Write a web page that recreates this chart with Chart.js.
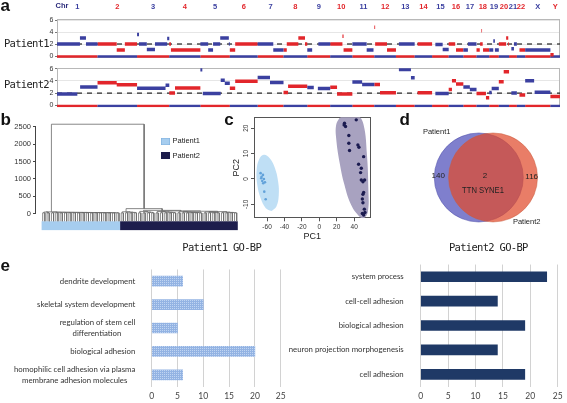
<!DOCTYPE html>
<html>
<head>
<meta charset="utf-8">
<script src="https://cdn.jsdelivr.net/npm/chart.js@4.4.1/dist/chart.umd.min.js"></script>
<style>
  html, body { margin: 0; padding: 0; background: #fff; }
  #fig { position: relative; width: 567px; height: 403px; overflow: hidden; font-family: "Liberation Sans", Arial, sans-serif; }
  #fig canvas { position: absolute; }
  .t { position: absolute; white-space: nowrap; line-height: 1; color: #222; }
  .lab { font-weight: bold; font-size: 17px; color: #111; }
  .mono { font-family: "DejaVu Sans Mono", monospace; font-size: 10.5px; letter-spacing: -0.7px; }
  .sw { position: absolute; width: 9px; height: 7px; }
</style>
</head>
<body>
<div id="fig">
  <canvas id="cnP1" width="567" height="64" style="left:0;top:0"></canvas>
  <canvas id="cnP2" width="567" height="51" style="left:0;top:62px"></canvas>
  <canvas id="dendro" width="245" height="125" style="left:0;top:112px"></canvas>
  <canvas id="pca" width="150" height="130" style="left:225px;top:112px"></canvas>
  <canvas id="venn" width="140" height="95" style="left:416px;top:130px"></canvas>
  <canvas id="go1" width="290" height="153" style="left:0;top:250px"></canvas>
  <canvas id="go2" width="297" height="153" style="left:270px;top:250px"></canvas>
</div>
<script>
// ---- a: copy number ----
const chrNames = ['1','2','3','4','5','6','7','8','9','10','11','12','13','14','15','16','17','18','19','20','21','22','X','Y'];
const chrLenMb = [249,243,198,191,181,171,159,146,141,136,135,133,115,107,102,90,81,78,59,63,48,51,155,59];
// [chromosome, start Mb, end Mb, copy number]
const p1Segments = [
  [1,0,141,2],[1,141,178,3],[1,178,249,2],
  [2,0,118,2],[2,118,168,1],[2,168,243,2],
  [3,0,12,3.6],[3,12,60,2],[3,60,110,1.1],[3,110,185,2],[3,185,198,2.9],
  [4,0,10,2],[4,10,191,1],
  [5,0,48,2],[5,48,78,1],[5,78,122,2],[5,122,175,3],[5,175,181,2],
  [6,0,33,1],[6,33,171,2],
  [7,0,96,2],[7,96,159,1],
  [8,0,20,1],[8,20,91,2],[8,91,132,3],[8,132,146,2],
  [9,0,30,1],[9,68,141,2],
  [10,0,75,2],[10,75,82,3.3],[10,82,136,1],
  [11,0,88,2],[11,88,130,1],
  [12,0,5,4.8],[12,5,78,2],[12,78,133,1],
  [13,18,115,2],
  [14,18,107,2],
  [15,20,65,1.9],[15,65,102,1.1],
  [16,0,40,2],[16,33,38,4],[16,45,90,1],
  [17,0,28,1],[17,28,81,2],
  [18,0,20,1],[18,22,38,2],[18,30,34,4.2],[18,40,78,1],
  [19,0,25,1],[19,25,35,2.5],[19,35,59,1],
  [20,0,45,2],[20,45,58,3],[20,58,63,2],
  [21,14,30,1.2],[21,30,48,2],
  [22,16,51,1],
  [23,0,155,1],
  [24,0,20,0.2]
];
const p2Segments = [
  [1,0,125,1.85],[1,142,249,3.0],
  [2,0,118,3.7],[2,118,243,3.35],
  [3,0,175,2.8],[3,175,198,3.3],
  [4,0,35,2.0],[4,35,191,2.85],
  [5,0,12,5.8],[5,15,125,1.95],[5,125,150,4.1],[5,150,181,3.6],
  [6,0,33,2.8],[6,33,171,3.95],
  [7,0,76,4.55],[7,76,159,3.75],
  [8,0,28,2.1],[8,28,146,3.1],
  [9,0,40,2.9],[9,65,141,2.75],
  [10,0,42,2.95],[10,42,136,1.85],
  [11,0,60,3.8],[11,60,135,3.4],
  [12,0,35,3.4],[12,35,133,2.05],
  [13,18,92,5.85],[13,92,115,4.5],
  [14,18,107,2.05],
  [15,20,102,1.95],
  [16,0,20,2.6],[16,20,45,4.0],[16,45,90,3.5],
  [17,0,40,3.0],[17,40,81,2.6],
  [18,0,58,1.95],[18,58,78,1.25],
  [19,0,15,2.1],[19,15,59,2.75],
  [20,0,30,3.85],[20,30,63,5.5],
  [21,14,48,2.0],
  [22,16,51,1.7],
  [23,0,55,4.0],[23,58,155,2.15],
  [24,0,59,1.45]
];
const cnTicks = [0,1,2,3,4,5,6];

// ---- b: dendrogram (pair heights and join heights) ----
const leftPairs = [30,27,28,31,26,29,30,28,27,32,29,26,31,28,27,30,28,29];
const leftJoins = [57,52,49,47,45,44,43,42,41,40,39,38,37,36,35,34,33];
const rightGroups = [
  {pairs: [28,31,27,30], joins: [60,50,42]},
  {pairs: [29,26,30,28], joins: [70,55,45]},
  {pairs: [27,31,29,26,30], joins: [68,58,48,40]},
  {pairs: [30,28,27,31,29,26], joins: [62,52,46,40,36]},
  {pairs: [28,30,27,29], joins: [55,47,40]},
  {pairs: [31,27,30,28], joins: [50,42,36]}
];
const rightGroupJoins = [150,100,85,75,65];
const rootHeight = 2570;
const dendroTicks = [0,500,1000,1500,2000,2500];

// ---- c: PCA ----
const pcaP1 = [[-67.4,2.3],[-66.3,0.9],[-64.7,1.6],[-63.6,0],[-65.5,-0.8],[-62.4,-1.3],[-64.4,-1.7],[-63.2,-5.0],[-61.6,-8.0],[-66.7,0.3]];
const pcaP2 = [[28.9,22.0],[30.1,20.7],[28.5,21.3],[42.4,23.3],[33.9,17.1],[33.9,14.1],[34.7,11.2],[44.3,13.4],[45.5,12.5],[50.9,8.8],
  [45.1,5.8],[48.2,4.2],[47.4,2.5],[48.2,-0.4],[50.1,-1.1],[52.0,-0.4],[50.9,-5.3],[50.1,-6.0],[49.4,-7.9],[50.1,-9.4],
  [51.7,-11.9],[52.4,-13.2],[50.9,-14.2],[49.4,-13.6]];
const pcaP1Ellipse = [[-54.8,-12.6],[-49.4,-10.9],[-46.6,-6.6],[-47.3,-1.0],[-51.2,4.5],[-57.2,8.3],[-63.8,9.5],[-69.2,7.7],[-72.0,3.4],[-71.3,-2.2],[-67.4,-7.6],[-61.4,-11.5]];
const pcaP2Hull = [[23.1,24.0],[30.8,25.5],[44.3,25.0],[50.9,21.3],[54.7,9.5],[56.3,-3.7],[55.8,-12.9],[50.9,-15.5],[46.2,-14.9],[36.6,-10.3],[28.9,-2.4],[23.1,6.8],[19.3,16.1],[19.3,21.3]];
const pcaXTicks = [-60,-40,-20,0,20,40];
const pcaYTicks = [-10,0,10,20];

// ---- d: Venn ----
const vennNames = ['Patient1','Patient2'];
const vennCounts = [140, 2, 116];
const vennShared = 'TTN SYNE1';

// ---- e: GO-BP ----
const go1Terms = ['dendrite development','skeletal system development',['regulation of stem cell','differentiation'],'biological adhesion',['homophilic cell adhesion via plasma','membrane adhesion molecules']];
const go1Counts = [6,10,5,20,6];
const go2Terms = ['system process','cell-cell adhesion','biological adhesion','neuron projection morphogenesis','cell adhesion'];
const go2Counts = [23,14,19,14,19];
const goTicks = [0,5,10,15,20,25];

Chart.defaults.font.family = '"Liberation Sans", Arial, sans-serif';
Chart.defaults.animation = false;
Chart.defaults.responsive = false;
Chart.defaults.devicePixelRatio = 1;
Chart.defaults.events = [];
Chart.defaults.plugins.legend.display = false;
Chart.defaults.plugins.tooltip.enabled = false;

const boxPlugin = {
  id: 'box',
  beforeDatasetsDraw(chart, args, opts) {
    if (!opts.color) return;
    const {ctx, chartArea: a} = chart;
    ctx.save();
    ctx.strokeStyle = opts.color;
    ctx.lineWidth = 1;
    ctx.strokeRect(Math.round(a.left) + 0.5, Math.round(a.top) + 0.5, Math.round(a.right - a.left) - 1, Math.round(a.bottom - a.top) - 1);
    ctx.restore();
  }
};
const fixedTicks = list => s => { s.ticks = list.map(v => ({value: v})); };

const BLUE = '#3b40a0', RED = '#e2262b';
const chrStart = [];
chrLenMb.reduce((acc, len, i) => { chrStart[i] = acc; return acc + len; }, 0);
const genomeMb = chrLenMb.reduce((a, b) => a + b, 0);
const chrMid = chrLenMb.map((len, i) => chrStart[i] + len / 2);
const gap = () => ({x: null, y: null});

function cnChart(id, segs, yMin, yMax, withChr, padTop, padBottom) {
  const lines = [[], []], base = [[], []];
  segs.forEach(([c, s, e, cn]) => {
    lines[(c - 1) % 2].push({x: chrStart[c - 1] + s, y: cn}, {x: chrStart[c - 1] + e, y: cn}, gap());
  });
  chrLenMb.forEach((len, i) => {
    base[(i + 1) % 2].push({x: chrStart[i], y: -0.1}, {x: chrStart[i] + len, y: -0.1}, gap());
  });
  const ds = (data, color, w, extra) => Object.assign({data, showLine: true, borderColor: color, borderWidth: w, pointRadius: 0, borderCapStyle: 'butt'}, extra);
  return new Chart(id, {
    type: 'scatter',
    data: {datasets: [
      ds(lines[0], BLUE, 3.5, {order: 1}),
      ds(lines[1], RED, 3.5, {order: 1}),
      ds(base[0], BLUE, 2.5, {order: 2}),
      ds(base[1], RED, 2.5, {order: 2}),
      ds([{x: 0, y: 2}, {x: genomeMb, y: 2}], '#222', 1.2, {borderDash: [5, 5], order: 3})
    ]},
    options: {
      layout: {padding: {top: padTop, right: 7, bottom: padBottom, left: 0}},
      plugins: {box: {color: '#b8b8b8'}},
      scales: {
        x: {
          type: 'linear', position: 'top', display: withChr, min: 0, max: genomeMb,
          afterBuildTicks: fixedTicks(chrMid),
          ticks: {autoSkip: false, minRotation: 0, maxRotation: 0, padding: 8,
            callback: (v, i) => chrNames[i], color: c => c.index % 2 ? RED : BLUE,
            font: {size: 7.5, weight: 'bold'}},
          grid: {display: false, drawTicks: false}, border: {display: false},
          afterFit: s => { if (withChr) s.height = 19; }
        },
        y: {
          min: yMin, max: yMax,
          afterBuildTicks: fixedTicks(cnTicks),
          ticks: {callback: v => v % 2 === 0 ? v : '', font: {size: 7}, color: '#333', padding: 1.5},
          grid: {color: '#e6e6e6', tickLength: 2, tickColor: c => c.tick && c.tick.value % 2 === 0 ? '#777' : 'rgba(0,0,0,0)'},
          border: {display: false},
          afterFit: s => { s.width = 57; }
        }
      }
    },
    plugins: [boxPlugin]
  });
}
cnChart('cnP1', p1Segments, -0.35, 6.17, true, 0, 5.9);
cnChart('cnP2', p2Segments, -0.3, 6.05, false, 6.3, 5.8);

// ---- b ----
function chain(pairs, joins) {
  let node = pairs[pairs.length - 1];
  for (let k = pairs.length - 2; k >= 0; k--) node = [joins[k], pairs[k], node];
  return node;
}
let rightTree = chain(rightGroups[rightGroups.length - 1].pairs, rightGroups[rightGroups.length - 1].joins);
for (let g = rightGroups.length - 2; g >= 0; g--) rightTree = [rightGroupJoins[g], chain(rightGroups[g].pairs, rightGroups[g].joins), rightTree];
const leftTree = [leftJoins[0], chain(leftPairs.slice(0, 2), leftJoins.slice(1, 2)), chain(leftPairs.slice(2), leftJoins.slice(2))];
const leafBase = -211;
const dendroPts = [];
let leafCount = 0;
function walk(node) {
  if (typeof node === 'number') {
    const a = leafCount++, b = leafCount++;
    dendroPts.push({x: a, y: leafBase}, {x: a, y: node}, {x: b, y: node}, {x: b, y: leafBase}, gap());
    return {x: (a + b) / 2, h: node};
  }
  const [h, l, r] = node;
  const A = walk(l), B = walk(r);
  dendroPts.push({x: A.x, y: A.h}, {x: A.x, y: h}, {x: B.x, y: h}, {x: B.x, y: B.h}, gap());
  return {x: (A.x + B.x) / 2, h};
}
let nLeft = 0;
(function () {
  const A = walk(leftTree);
  nLeft = leafCount;
  const B = walk(rightTree);
  dendroPts.push({x: A.x, y: A.h}, {x: A.x, y: rootHeight}, {x: B.x, y: rootHeight}, {x: B.x, y: B.h}, gap());
})();
const nLeaves = leafCount;
const leafStep = 194 / (nLeaves - 1);
const barY = -340;
new Chart('dendro', {
  type: 'scatter',
  data: {datasets: [
    {data: dendroPts, showLine: true, pointRadius: 0, borderColor: '#6a6a6a', borderWidth: 0.8},
    {data: [{x: -0.5, y: barY}, {x: nLeft - 0.5, y: barY}], showLine: true, pointRadius: 0, borderColor: '#a6cdef', borderWidth: 9, borderCapStyle: 'butt'},
    {data: [{x: nLeft - 0.5, y: barY}, {x: nLeaves - 0.5, y: barY}], showLine: true, pointRadius: 0, borderColor: '#1d1d4c', borderWidth: 9, borderCapStyle: 'butt'}
  ]},
  options: {
    layout: {padding: {top: 8, right: 5, bottom: 6, left: 0}},
    scales: {
      x: {display: false, min: -6.7 / leafStep, max: nLeaves - 1 + 3.3 / leafStep},
      y: {
        min: -477, max: 2691,
        afterBuildTicks: fixedTicks(dendroTicks),
        ticks: {font: {size: 7.5}, color: '#333', padding: 2, callback: v => String(v)},
        grid: {drawOnChartArea: false, tickLength: 3, tickColor: '#444'},
        border: {display: false},
        afterFit: s => { s.width = 36; }
      }
    }
  },
  plugins: [{
    id: 'raxis',
    afterDraw(chart) {
      const y = chart.scales.y, ctx = chart.ctx;
      ctx.save();
      ctx.strokeStyle = '#444'; ctx.lineWidth = 1;
      ctx.beginPath();
      ctx.moveTo(Math.round(y.right) - 0.5, y.getPixelForValue(dendroTicks[0]));
      ctx.lineTo(Math.round(y.right) - 0.5, y.getPixelForValue(dendroTicks[dendroTicks.length - 1]));
      ctx.stroke();
      ctx.restore();
    }
  }]
});

// ---- c ----
const pts = arr => arr.map(([x, y]) => ({x, y}));
const closed = arr => pts(arr.concat([arr[0]]));
new Chart('pca', {
  type: 'scatter',
  data: {datasets: [
    {data: pts(pcaP1), pointRadius: 1.3, backgroundColor: '#62a2da', borderWidth: 0, order: 0},
    {data: pts(pcaP2), pointRadius: 1.7, backgroundColor: '#1b1b50', borderWidth: 0, order: 1},
    {data: closed(pcaP1Ellipse), showLine: true, fill: 'shape', tension: 0.4, pointRadius: 0, borderWidth: 0, borderColor: 'rgba(0,0,0,0)', backgroundColor: 'rgba(170,212,242,0.75)', order: 2},
    {data: closed(pcaP2Hull), showLine: true, fill: 'shape', tension: 0.4, pointRadius: 0, borderWidth: 0, borderColor: 'rgba(0,0,0,0)', backgroundColor: '#a8a2c0', order: 3}
  ]},
  options: {
    layout: {padding: {top: 5.3, right: 4.3, bottom: 0, left: 0}},
    plugins: {box: {color: '#555'}},
    scales: {
      x: {
        min: -75, max: 59,
        afterBuildTicks: fixedTicks(pcaXTicks),
        ticks: {font: {size: 6.5}, color: '#333', padding: 2.3, maxRotation: 0},
        grid: {drawOnChartArea: false, tickLength: 3, tickColor: '#555'},
        border: {display: false},
        title: {display: true, text: 'PC1', font: {size: 9}, color: '#222', padding: {top: 0, bottom: 0}},
        afterFit: s => { s.height = 23.7; }
      },
      y: {
        min: -15.5, max: 24.3,
        afterBuildTicks: fixedTicks(pcaYTicks),
        ticks: {font: {size: 6.5}, color: '#333', padding: 0, minRotation: 90, maxRotation: 90, crossAlign: 'center'},
        grid: {drawOnChartArea: false, tickLength: 3, tickColor: '#555'},
        border: {display: false},
        title: {display: true, text: 'PC2', font: {size: 9}, color: '#222', padding: {top: 6.3, bottom: 0}},
        afterFit: s => { s.width = 29; }
      }
    }
  },
  plugins: [boxPlugin]
});

// ---- d ----
new Chart('venn', {
  type: 'scatter',
  data: {datasets: [
    {data: [{x: 1, y: 0}], pointRadius: 44.5, backgroundColor: 'rgba(225,75,45,0.72)', borderColor: 'rgba(200,90,60,0.8)', borderWidth: 0.6, clip: false, order: 0},
    {data: [{x: 0, y: 0}], pointRadius: 44.5, backgroundColor: 'rgba(95,95,192,0.8)', borderColor: 'rgba(80,80,170,0.9)', borderWidth: 0.6, clip: false, order: 1}
  ]},
  options: {
    layout: {padding: 0},
    scales: {
      x: {display: false, min: -1.239, max: 2.252},
      y: {display: false, min: -1.197, max: 1.172}
    }
  }
});

// ---- e ----
const labelFont = 7.8;
const measureCtx = document.createElement('canvas').getContext('2d');
function centerLines(label, font) {
  if (!Array.isArray(label)) return label;
  measureCtx.font = font;
  const w = label.map(s => measureCtx.measureText(s).width);
  const max = Math.max(...w), sp = measureCtx.measureText(' ').width;
  return label.map((s, i) => s + ' '.repeat(Math.round((max - w[i]) / 2 / sp)));
}
function goChart(id, terms, counts, color, axisW, padR, labelPad) {
  return new Chart(id, {
    type: 'bar',
    data: {labels: terms, datasets: [{data: counts, backgroundColor: color, barThickness: 10, borderWidth: 0}]},
    options: {
      indexAxis: 'y',
      layout: {padding: {top: 5, right: padR, bottom: 0, left: 0}},
      scales: {
        x: {
          min: 0, max: 25,
          afterBuildTicks: fixedTicks(goTicks),
          ticks: {font: {family: 'Lato', size: 8.5}, color: '#444', padding: 4.4},
          grid: {color: '#d2d2d2', drawTicks: false},
          border: {display: false},
          afterFit: s => { s.height = 16.5; }
        },
        y: {
          grid: {display: false}, border: {display: false},
          ticks: {font: {family: 'Lato', size: labelFont, lineHeight: 1.42}, color: '#333', padding: labelPad, autoSkip: false,
            callback: (v, i) => centerLines(terms[i], labelFont + 'px Lato')},
          afterFit: s => { s.width = axisW; }
        }
      }
    }
  });
}
function dotPattern() {
  const c = document.createElement('canvas');
  c.width = 2; c.height = 2;
  const g = c.getContext('2d');
  g.fillStyle = '#93b3e3'; g.fillRect(0, 0, 2, 2);
  g.fillStyle = '#c0d5f2'; g.fillRect(0, 0, 1, 1);
  return g.createPattern(c, 'repeat');
}
goChart('go1', go1Terms, go1Counts, dotPattern(), 151.7, 7.3, 8.4);
goChart('go2', go2Terms, go2Counts, '#1f3966', 150.7, 7.7, 9);

// ---- text ----
const fig = document.getElementById('fig');
function txt(s, x, y, cls, anchor, css) {
  const d = document.createElement('div');
  d.className = 't ' + (cls || '');
  d.textContent = s;
  d.style.left = x + 'px';
  d.style.top = y + 'px';
  const tr = {c: 'translate(-50%,-50%)', l: 'translate(0,-50%)', tl: 'none'};
  d.style.transform = tr[anchor || 'c'];
  if (css) Object.assign(d.style, css);
  fig.appendChild(d);
}
function swatch(x, y, color, border) {
  const d = document.createElement('div');
  d.className = 'sw';
  d.style.left = x + 'px'; d.style.top = y + 'px';
  d.style.background = color; d.style.boxShadow = 'inset 0 0 0 0.6px ' + border;
  fig.appendChild(d);
}
txt('a', 0.5, -2.7, 'lab', 'tl');
txt('b', 0.5, 110.6, 'lab', 'tl');
txt('c', 224.3, 110.6, 'lab', 'tl');
txt('d', 399.5, 110.6, 'lab', 'tl');
txt('e', 0.5, 257.3, 'lab', 'tl');
txt('Chr', 62, 6.2, '', 'c', {fontSize: '7.5px', fontWeight: 'bold', color: '#2a2a7a'});
txt('Patient1', 4, 43.3, 'mono', 'l');
txt('Patient2', 4, 83.7, 'mono', 'l');
swatch(160.5, 137.5, '#a6cdef', '#7fb0dd');
swatch(160.5, 152, '#1d1d4c', '#1d1d4c');
txt('Patient1', 172.5, 141, '', 'l', {fontSize: '7.5px'});
txt('Patient2', 172.5, 155.5, '', 'l', {fontSize: '7.5px'});
txt(vennNames[0], 436.7, 131.7, '', 'c', {fontSize: '7.5px'});
txt(vennNames[1], 526.7, 222.3, '', 'c', {fontSize: '7.5px'});
txt(String(vennCounts[0]), 438.3, 175.7, '', 'c', {fontSize: '8px'});
txt(String(vennCounts[1]), 485, 175.7, '', 'c', {fontSize: '8px'});
txt(String(vennCounts[2]), 531.7, 176.7, '', 'c', {fontSize: '8px'});
txt(vennShared, 483.3, 190, '', 'c', {fontSize: '9.5px', transform: 'translate(-50%,-50%) scaleX(0.8)'});
txt('Patient1 GO-BP', 221.7, 246.7, 'mono', 'c');
txt('Patient2 GO-BP', 488.3, 246.7, 'mono', 'c');
</script>
</body>
</html>
